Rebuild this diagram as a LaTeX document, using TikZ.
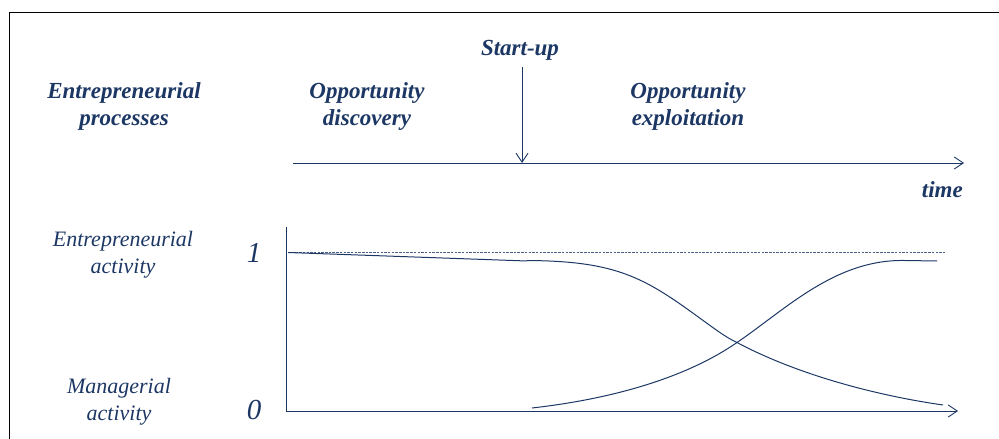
\documentclass[tikz,border=0pt]{standalone}
\usepackage{fontspec}
\setmainfont{Liberation Serif}
\newfontfamily\timesfont{Liberation Serif}
\usetikzlibrary{positioning, arrows.meta, calc}
\definecolor{navy}{RGB}{28,55,100}
\tikzset{
    headtext/.style={navy, font=\timesfont\fontsize{23}{27}\selectfont\bfseries\itshape, align=center, anchor=base, inner sep=0},
    sidetext/.style={navy, font=\timesfont\fontsize{22}{27}\selectfont\itshape, align=center, anchor=base, inner sep=0},
    ticktext/.style={navy, font=\timesfont\fontsize{29}{30}\selectfont\itshape, anchor=base, inner sep=0},
    axisline/.style={navy, line width=0.9pt, -{Straight Barb[length=9pt,width=12pt]}},
    curveline/.style={navy, line width=1pt},
}

\begin{document}
\begin{tikzpicture}[x=1pt, y=-1pt]
    \useasboundingbox (0,0) rectangle (999,439);

    % frame
    \draw[black, line width=1pt] (9,445) -- (9,12) -- (1005,12);

    \coordinate (TS) at (293,163);
    \coordinate (TE) at (964,163);
    \coordinate (SU) at (522,67);
    \coordinate (SUE) at (522,163);

    \coordinate (O) at (286,411);
    \coordinate (YE) at (286,227);
    \coordinate (XE) at (958,411);
    \coordinate (DS) at (288,252.5);
    \coordinate (DE) at (945,252.5);

    % process labels (base = last line)
    \foreach \pos/\name/\txt in {
        {(124,125)}/proc/{Entrepreneurial\\processes},
        {(367,125)}/disc/{Opportunity\\discovery},
        {(688,125)}/expl/{Opportunity\\exploitation},
        {(520,55)}/start/{Start-up}}
    {
        \node[headtext] (\name) at \pos {\txt};
    }
    \node[headtext, anchor=base east] (time) at (963,197) {time};

    % time axis
    \draw[axisline] (TS) -- (TE);
    \draw[axisline] (SU) -- (SUE);

    % activity labels
    \node[sidetext] (entr) at (123,273) {Entrepreneurial\\activity};
    \node[sidetext] (mana) at (119,420) {Managerial\\activity};
    \node[ticktext] (one) at (254,262) {1};
    \node[ticktext] (zero) at (254,419) {0};

    % axes
    \draw[axisline] (YE) -- (O) -- (XE);
    \draw[navy!80, line width=0.8pt, dash pattern=on 2.5pt off 1.2pt] (DS) -- (DE);

    % curves
    \coordinate (X) at (737,342.5);
    \draw[curveline] (DS) -- (527,261);
    \draw[curveline] (527,260.5) .. controls (610,261) and (640,275) .. (690,311)
        .. controls (715,329) and (725,337) .. (X)
        .. controls (800,376) and (880,396) .. (943,405);
    \draw[curveline] (532,408) .. controls (620,398) and (690,375) .. (X)
        .. controls (785,310) and (835,259) .. (905,260.5) -- (937,261);
\end{tikzpicture}
\end{document}
